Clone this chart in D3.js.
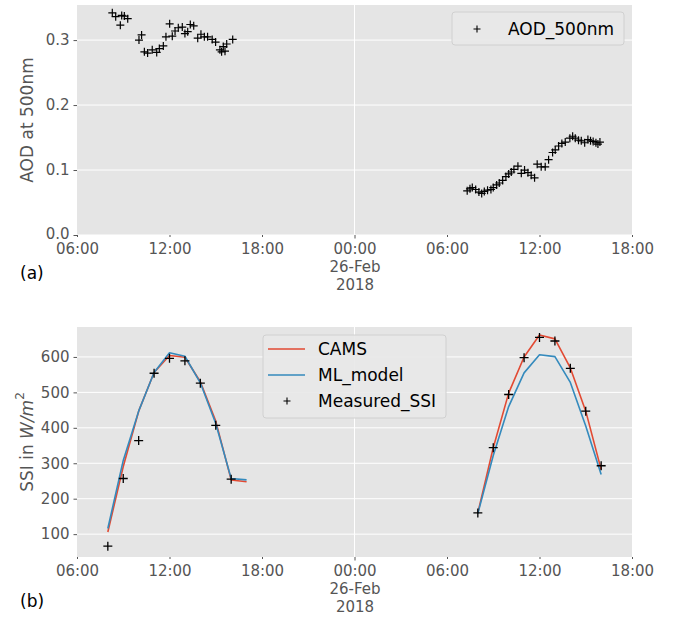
<!DOCTYPE html>
<html>
<head>
<meta charset="utf-8">
<script src="https://cdn.jsdelivr.net/npm/d3@7"></script>
<style>
  html, body { margin: 0; padding: 0; background: #ffffff; }
  svg { display: block; font-family: "DejaVu Sans", sans-serif; }
</style>
</head>
<body>
<svg id="chart" width="678" height="618"></svg>
<script>
// ---------- DATA ----------
// AOD observations: hours since 2018-02-25 00:00
const aodHours = [8.29,8.51,8.81,8.9,9.07,9.29,10.02,10.19,10.37,10.58,10.88,11.17,11.34,11.6,11.77,12.01,12.18,12.36,12.57,12.83,13.0,13.18,13.35,13.57,13.83,14.04,14.26,14.47,14.77,14.99,15.27,15.38,15.49,15.6,15.71,16.1,
  31.31,31.49,31.64,31.86,32.07,32.25,32.42,32.63,32.85,33.0,33.22,33.39,33.61,33.82,34.0,34.17,34.34,34.6,34.82,35.03,35.25,35.46,35.68,35.85,36.11,36.37,36.59,36.85,37.02,37.24,37.45,37.67,37.97,38.15,38.32,38.53,38.71,38.93,39.14,39.31,39.48,39.66,39.79,39.92];
const aodValues = [0.342,0.336,0.323,0.338,0.337,0.333,0.300,0.308,0.282,0.280,0.285,0.281,0.287,0.291,0.305,0.325,0.306,0.314,0.319,0.320,0.310,0.313,0.324,0.322,0.303,0.309,0.305,0.305,0.301,0.297,0.285,0.282,0.290,0.283,0.294,0.301,
  0.068,0.071,0.073,0.070,0.066,0.064,0.067,0.069,0.070,0.073,0.077,0.080,0.084,0.090,0.094,0.097,0.101,0.106,0.095,0.100,0.096,0.092,0.088,0.109,0.105,0.105,0.116,0.127,0.131,0.137,0.141,0.143,0.149,0.152,0.149,0.146,0.145,0.142,0.147,0.145,0.144,0.142,0.140,0.143];

// SSI: hourly, hours since 2018-02-25 00:00
const ssiHours    = [8,9,10,11,12,13,14,15,16,17, 32,33,34,35,36,37,38,39,40];
const camsSSI     = [106,291,447,556,604,599,530,419,253,248, 160,344,498,600,662,651,569,447,282];
const mlModelSSI  = [116,308,447,556,612,602,527,412,257,253, 158,322,460,555,606,601,528,405,268];
const measuredSSI = [66,257,364,554,596,589,526,407,255,null, 160,344,494,598,655,645,568,447,293];

const aodTicks = [0.0, 0.1, 0.2, 0.3];
const ssiTicks = [100, 200, 300, 400, 500, 600];
const xDomainHours = [6, 42];

// ---------- HELPERS ----------
const base = new Date(2018, 1, 25, 0, 0, 0);
const toDate = h => new Date(base.getTime() + h * 3600 * 1000);

const svg = d3.select("#chart");
const BG = "#E5E5E5", TXT = "#555555";
const FONT_TICK = 15, FONT_LABEL = 17, FONT_LEG = 17;

function drawPanel(opts) {
  const { top, bottom, left, right, yDomain, yTicks, yLabel, panelTag } = opts;
  const g = svg.append("g");
  const x = d3.scaleTime().domain(xDomainHours.map(toDate)).range([left, right]);
  const y = d3.scaleLinear().domain(yDomain).range([bottom, top]);

  g.append("rect").attr("x", left).attr("y", top)
    .attr("width", right - left).attr("height", bottom - top).attr("fill", BG);

  // grid: horizontal at y ticks, vertical at major (midnight) only
  g.append("g").selectAll("line").data(yTicks).join("line")
    .attr("x1", left).attr("x2", right)
    .attr("y1", d => y(d)).attr("y2", d => y(d))
    .attr("stroke", "#ffffff").attr("stroke-width", 1);
  const majors = [toDate(24)];
  g.append("g").selectAll("line").data(majors).join("line")
    .attr("x1", d => x(d)).attr("x2", d => x(d))
    .attr("y1", top).attr("y2", bottom)
    .attr("stroke", "#ffffff").attr("stroke-width", 1);

  // x axis
  const xTicks = d3.timeHour.every(6).range(toDate(6), toDate(42.01));
  const xAxis = d3.axisBottom(x).tickValues(xTicks)
    .tickSize(3.5).tickPadding(4.5).tickFormat(d3.timeFormat("%H:%M"));
  const xa = g.append("g").attr("transform", `translate(0,${bottom})`).call(xAxis);
  xa.select(".domain").remove();
  xa.selectAll(".tick line").attr("stroke", TXT)
    .attr("y2", d => d.getHours() === 0 ? 3.5 : 2);
  xa.selectAll(".tick text").attr("fill", TXT).attr("font-size", FONT_TICK)
    .attr("font-family", "DejaVu Sans");
  xa.selectAll(".tick").filter(d => d.getHours() === 0).select("text")
    .each(function (d) {
      const t = d3.select(this);
      t.append("tspan").attr("x", 0).attr("dy", "1.22em").text(d3.timeFormat("%d-%b")(d));
      t.append("tspan").attr("x", 0).attr("dy", "1.22em").text(d3.timeFormat("%Y")(d));
    });

  // y axis
  const yAxis = d3.axisLeft(y).tickValues(yTicks).tickSize(3.5).tickPadding(4)
    .tickFormat(opts.yFormat);
  const ya = g.append("g").attr("transform", `translate(${left},0)`).call(yAxis);
  ya.select(".domain").remove();
  ya.selectAll(".tick line").attr("stroke", TXT);
  ya.selectAll(".tick text").attr("fill", TXT).attr("font-size", FONT_TICK)
    .attr("font-family", "DejaVu Sans");
  // lowest label sits right on the frame edge: nudge it up so it clears the x labels
  ya.selectAll(".tick").filter(d => y(d) >= bottom - 0.5).select("text")
    .attr("dy", "0.2em");

  // y label
  const yl = g.append("text")
    .attr("transform", `translate(${27},${(top + bottom) / 2}) rotate(-90)`)
    .attr("text-anchor", "middle").attr("dominant-baseline", "central")
    .attr("fill", TXT).attr("font-size", FONT_LABEL);
  yLabel(yl);

  // panel tag
  g.append("text").attr("x", 20).attr("y", panelTag.y)
    .attr("fill", "#000").attr("font-size", 17).text(panelTag.text);

  return { g, x, y };
}

function plus(sel, size, sw) {
  const h = size / 2;
  sel.append("path")
    .attr("d", `M${-h},0H${h}M0,${-h}V${h}`)
    .attr("stroke", "#000").attr("stroke-width", sw).attr("fill", "none");
}

// ---------- PANEL (a) ----------
const pa = drawPanel({
  top: 5, bottom: 235, left: 77, right: 632,
  yDomain: [0, 0.354], yTicks: aodTicks,
  yFormat: d3.format(".1f"),
  yLabel: t => t.text("AOD at 500nm"),
  panelTag: { text: "(a)", y: 279 }
});
const aodPts = aodHours.map((h, i) => ({ h, v: aodValues[i] }));
pa.g.append("g").selectAll("g").data(aodPts).join("g")
  .attr("transform", d => `translate(${pa.x(toDate(d.h))},${pa.y(d.v)})`)
  .each(function () { plus(d3.select(this), 8, 1.2); });

// legend (a)
const lga = pa.g.append("g");
lga.append("rect").attr("x", 452).attr("y", 12).attr("width", 172).attr("height", 33)
  .attr("rx", 3).attr("fill", "#E8E8E8").attr("fill-opacity", 0.9)
  .attr("stroke", "#d0d0d0").attr("stroke-width", 1);
lga.append("g").attr("transform", "translate(477,29)")
  .each(function () { plus(d3.select(this), 7, 1.1); });
lga.append("text").attr("x", 508).attr("y", 29).attr("dominant-baseline", "central")
  .attr("font-size", FONT_LEG).attr("fill", "#000").text("AOD_500nm");

// ---------- PANEL (b) ----------
const pb = drawPanel({
  top: 327, bottom: 557, left: 77, right: 632,
  yDomain: [35.5, 684.5], yTicks: ssiTicks,
  yFormat: d3.format("d"),
  yLabel: t => {
    t.append("tspan").text("SSI in ");
    t.append("tspan").attr("font-style", "italic").text("W/m");
    t.append("tspan").attr("dy", -7).attr("font-size", 12).text("2");
  },
  panelTag: { text: "(b)", y: 607 }
});

const ssiRows = ssiHours.map((h, i) => ({ h, cams: camsSSI[i], ml: mlModelSSI[i], meas: measuredSSI[i] }));
const days = [ssiRows.filter(d => d.h < 24), ssiRows.filter(d => d.h >= 24)];

function drawSeries(key, color) {
  const line = d3.line()
    .defined(d => d[key] != null)
    .x(d => pb.x(toDate(d.h))).y(d => pb.y(d[key]));
  pb.g.append("g").selectAll("path").data(days).join("path")
    .attr("d", line).attr("fill", "none")
    .attr("stroke", color).attr("stroke-width", 1.6)
    .attr("stroke-linejoin", "round");
}
drawSeries("cams", "#E24A33");
drawSeries("ml", "#348ABD");

pb.g.append("g").selectAll("g").data(ssiRows.filter(d => d.meas != null)).join("g")
  .attr("transform", d => `translate(${pb.x(toDate(d.h))},${pb.y(d.meas)})`)
  .each(function () { plus(d3.select(this), 9, 1.3); });

// legend (b)
const lgb = pb.g.append("g");
lgb.append("rect").attr("x", 263).attr("y", 335).attr("width", 183).attr("height", 83)
  .attr("rx", 3).attr("fill", "#E8E8E8").attr("fill-opacity", 0.9)
  .attr("stroke", "#d0d0d0").attr("stroke-width", 1);
const legItems = [
  { label: "CAMS", type: "line", color: "#E24A33", y: 349 },
  { label: "ML_model", type: "line", color: "#348ABD", y: 375 },
  { label: "Measured_SSI", type: "plus", y: 401 }
];
legItems.forEach(it => {
  if (it.type === "line") {
    lgb.append("line").attr("x1", 268).attr("x2", 305).attr("y1", it.y).attr("y2", it.y)
      .attr("stroke", it.color).attr("stroke-width", 1.6);
  } else {
    lgb.append("g").attr("transform", `translate(287,${it.y})`)
      .each(function () { plus(d3.select(this), 7, 1.1); });
  }
  lgb.append("text").attr("x", 318).attr("y", it.y).attr("dominant-baseline", "central")
    .attr("font-size", FONT_LEG).attr("fill", "#000").text(it.label);
});
</script>
</body>
</html>
